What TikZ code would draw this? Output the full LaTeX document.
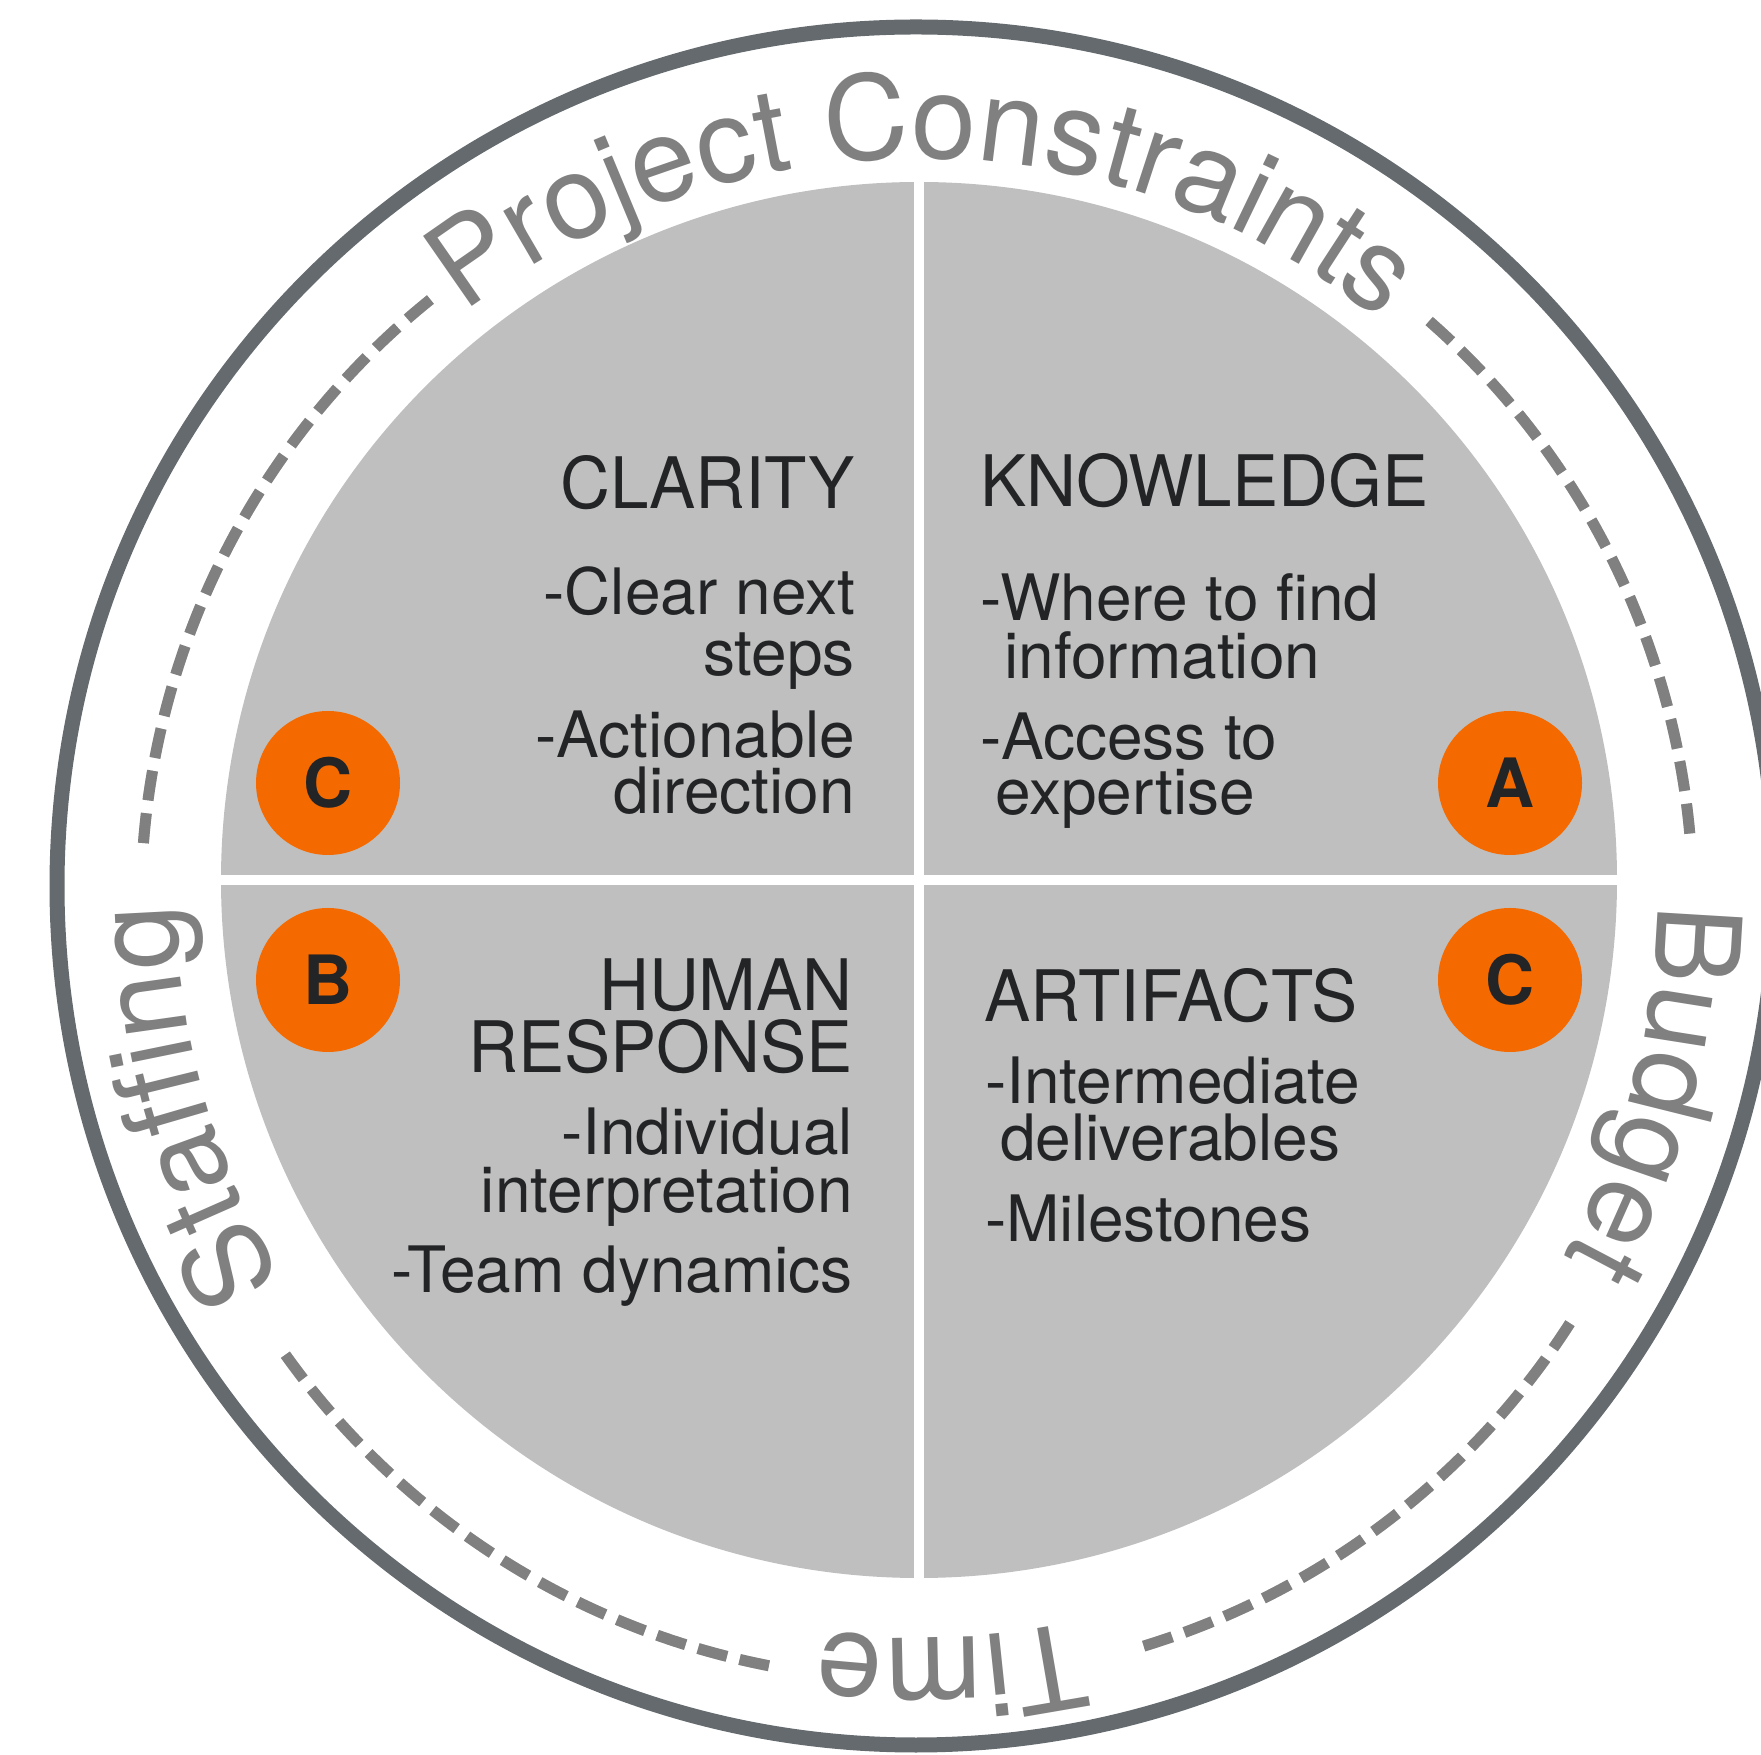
\documentclass[tikz,border=0pt]{standalone}
\usepackage{fontspec}
\setmainfont{TeX Gyre Heros}
\newfontfamily\titlefont[FakeStretch=0.975]{TeX Gyre Heros}
\newfontfamily\ringfont{TeX Gyre Heros}
\usetikzlibrary{decorations.text}

\definecolor{ringline}{HTML}{646A6E}
\definecolor{ringtext}{HTML}{808080}
\definecolor{ringshadow}{HTML}{D4D4D4}
\definecolor{disc}{HTML}{BFBFBF}
\definecolor{badgefill}{HTML}{F56A00}
\definecolor{ink}{HTML}{222426}

\tikzset{
  ringword/.style={
    decorate,
    decoration={text along path, text align=center,
      text={|\ringfont\fontsize{117}{117}\selectfont|#1},
      text color=ringtext}},
  dashring/.style={line width=11, dash pattern=on 30 off 13, draw=#1},
  badge/.style={circle, fill=badgefill, minimum size=144, inner sep=0,
    text=ink, font=\fontsize{68}{68}\selectfont\bfseries},
  title/.style={inner sep=0, text=ink, font=\titlefont\fontsize{71}{71}\selectfont},
  item/.style={inner sep=0, text=ink, font=\fontsize{64}{64}\selectfont}
}

% dashed arcs of the constraint ring, in colour #1
\newcommand\ringdashes[1]{%
  \foreach \a/\b in {48.7/4.5, 327.3/286.2, 259/214.6, 175.5/127.9}
    \draw[dashring=#1, shift={(dashC)}] (\a:776) arc[start angle=\a, end angle=\b, radius=776];
}

\begin{document}
\begin{tikzpicture}[x=1pt, y=1pt]
\useasboundingbox (0,0) rectangle (1761,1754);
\clip (0,0) rectangle (1761,1754);

\coordinate (ringC) at (916,868);
\coordinate (dashC) at (917,850);
\coordinate (textC) at (917,856);
\coordinate (discC) at (919,874);

% outer ring
\draw[ringline, line width=15] (ringC) circle[radius=859];

% dashes with a soft drop shadow
\begin{scope}[shift={(2,-3)}]
  \ringdashes{ringshadow}
\end{scope}
\ringdashes{ringtext}

% constraint words set along the ring
\path[ringword={Project Constraints}, shift={(textC)}]
  (134.5:740) arc[start angle=134.5, end angle=44.5, radius=740];
\path[ringword={Budget}, shift={(textC)}]
  (30.25:740) arc[start angle=30.25, end angle=-59.75, radius=740];
\path[ringword={Time}, shift={(textC)}]
  (317.5:740) arc[start angle=317.5, end angle=227.5, radius=740];
\path[ringword={Staffing}, shift={(textC)}]
  (240.8:740) arc[start angle=240.8, end angle=150.8, radius=740];

% quartered disc
\fill[disc] (discC) circle[radius=698];
\fill[white, shift={(discC)}] (-5,-710) rectangle (5,710);
\fill[white, shift={(discC)}] (-710,-5) rectangle (710,5);

% badges
\node[badge] (badgeTL) at (328,971) {C};
\node[badge] (badgeTR) at (1510,971) {A};
\node[badge] (badgeBL) at (328,774) {B};
\node[badge] (badgeBR) at (1510,774) {C};

% clarity
\node[title, anchor=base east] (clarity) at (855,1245) {CLARITY};
\node[item, anchor=base east] (clar1) at (855,1139) {-Clear next};
\node[item, anchor=base east] (clar2) at (855,1078) {steps};
\node[item, anchor=base east] (clar3) at (855,996) {-Actionable};
\node[item, anchor=base east] (clar4) at (855,940) {direction};

% knowledge
\node[title, anchor=base west] (knowledge) at (980,1247) {KNOWLEDGE};
\node[item, anchor=base west] (know1) at (980,1133) {-Where to find};
\node[item, anchor=base west] (know2) at (1004,1075) {information};
\node[item, anchor=base west] (know3) at (980,994) {-Access to};
\node[item, anchor=base west] (know4) at (995,939) {expertise};

% human response
\node[title, anchor=base east] (human) at (853,743) {HUMAN};
\node[title, anchor=base east] (response) at (853,681) {RESPONSE};
\node[item, anchor=base east] (hum1) at (853,599) {-Individual};
\node[item, anchor=base east] (hum2) at (853,541) {interpretation};
\node[item, anchor=base east] (hum3) at (853,461) {-Team dynamics};

% artifacts
\node[title, anchor=base west] (artifacts) at (984,732) {ARTIFACTS};
\node[item, anchor=base west] (art1) at (985,650) {-Intermediate};
\node[item, anchor=base west] (art2) at (1000,593) {deliverables};
\node[item, anchor=base west] (art3) at (985,512) {-Milestones};
\end{tikzpicture}
\end{document}
